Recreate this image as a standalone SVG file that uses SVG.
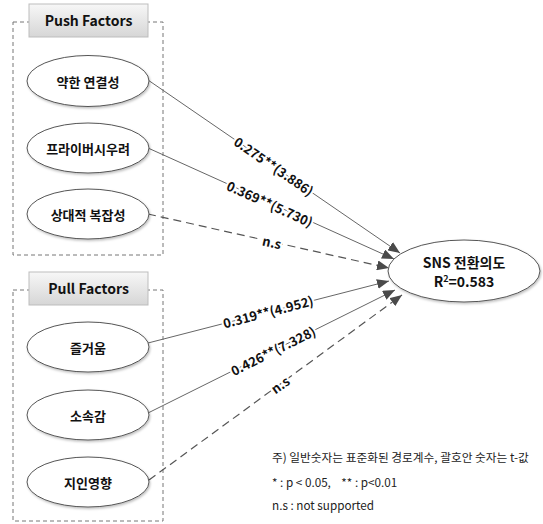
<svg xmlns="http://www.w3.org/2000/svg" width="543" height="524" viewBox="0 0 543 524">
  <defs>
    <linearGradient id="hdr" x1="0" y1="0" x2="0" y2="1">
      <stop offset="0" stop-color="#f7f7f7"/>
      <stop offset="1" stop-color="#d6d6d6"/>
    </linearGradient>
    <filter id="sh" x="-10%" y="-10%" width="125%" height="130%">
      <feDropShadow dx="1" dy="1.5" stdDeviation="1" flood-color="#000" flood-opacity="0.25"/>
    </filter>
    <marker id="arr" viewBox="0 0 12 10" refX="12" refY="5" markerWidth="12" markerHeight="10" markerUnits="userSpaceOnUse" orient="auto">
      <path d="M0,0 L12,5 L0,10 Z" fill="#4a4a4a"/>
    </marker>
  </defs>
  <style>
    .grp { fill: none; stroke: #777; stroke-width: 1; stroke-dasharray: 4 3; }
    .hdr { fill: url(#hdr); stroke: #bdbdbd; stroke-width: 1; }
    .hdrt { font-family: "Noto Sans CJK KR", "Noto Sans", sans-serif; font-size: 14px; font-weight: 700; fill: #111; text-anchor: middle; }
    .node { fill: #fff; stroke: #555; stroke-width: 1; filter: url(#sh); }
    .nt { font-family: "Noto Sans CJK KR", sans-serif; font-size: 13px; font-weight: 700; fill: #111; text-anchor: middle; dominant-baseline: central; }
    .tt { font-family: "Noto Sans CJK KR", sans-serif; font-size: 14px; font-weight: 700; fill: #111; text-anchor: middle; }
    .ln { stroke: #666; stroke-width: 1; fill: none; marker-end: url(#arr); }
    .dl { stroke: #555; stroke-width: 1.2; fill: none; stroke-dasharray: 8 5; marker-end: url(#arr); }
    .lab { font-family: "Noto Sans CJK KR", sans-serif; font-size: 13px; font-weight: 700; fill: #111; text-anchor: middle; dominant-baseline: central; stroke: #fff; stroke-width: 4; paint-order: stroke; stroke-linejoin: round; }
    .note { font-family: "Noto Sans CJK KR", sans-serif; font-size: 11.7px; fill: #222; white-space: pre; }
  </style>

  <!-- groups -->
  <g id="push-group">
    <rect class="grp" x="13" y="22" width="150" height="233"/>
    <rect class="hdr" x="29" y="4" width="119" height="33"/>
    <text class="hdrt" x="88.5" y="26">Push Factors</text>
  </g>
  <g id="pull-group">
    <rect class="grp" x="13" y="290" width="150" height="231"/>
    <rect class="hdr" x="29" y="272" width="119" height="33"/>
    <text class="hdrt" x="88.5" y="294">Pull Factors</text>
  </g>

  <!-- connectors -->
  <g id="connectors">
    <line class="ln" x1="148" y1="80" x2="400" y2="253"/>
    <line class="ln" x1="148" y1="148" x2="394" y2="259"/>
    <line class="dl" x1="148" y1="214" x2="389" y2="268"/>
    <line class="ln" x1="148" y1="343" x2="389" y2="281"/>
    <line class="ln" x1="148" y1="413" x2="395" y2="290"/>
    <line class="dl" x1="149" y1="480" x2="402" y2="295"/>
    <text class="lab" transform="translate(274,166) rotate(34.5)">0.275**(3.886)</text>
    <text class="lab" transform="translate(270,203.5) rotate(24.3)">0.369**(5.730)</text>
    <text class="lab" transform="translate(272,242) rotate(12.6)">n.s</text>
    <text class="lab" transform="translate(268,311.5) rotate(-14.5)">0.319**(4.952)</text>
    <text class="lab" transform="translate(273,350.5) rotate(-26.5)">0.426**(7.328)</text>
    <text class="lab" transform="translate(280,384.5) rotate(-36)">n.s</text>
  </g>

  <!-- nodes -->
  <g id="n1"><ellipse class="node" cx="88" cy="81" rx="61" ry="25.5"/><text class="nt" x="88" y="81">약한 연결성</text></g>
  <g id="n2"><ellipse class="node" cx="88" cy="148" rx="61" ry="25"/><text class="nt" x="88" y="148">프라이버시우려</text></g>
  <g id="n3"><ellipse class="node" cx="88" cy="214" rx="61" ry="25"/><text class="nt" x="88" y="214">상대적 복잡성</text></g>
  <g id="n4"><ellipse class="node" cx="88" cy="347" rx="61" ry="25"/><text class="nt" x="88" y="347">즐거움</text></g>
  <g id="n5"><ellipse class="node" cx="88" cy="415" rx="61" ry="25"/><text class="nt" x="88" y="415">소속감</text></g>
  <g id="n6"><ellipse class="node" cx="88" cy="482" rx="61" ry="25"/><text class="nt" x="88" y="482">지인영향</text></g>
  <g id="target">
    <ellipse class="node" cx="464" cy="271" rx="76" ry="31"/>
    <text class="tt" x="464" y="268">SNS 전환의도</text>
    <text class="tt" x="464" y="287">R<tspan font-size="9" dy="-5">2</tspan><tspan dy="5">=0.583</tspan></text>
  </g>

  <!-- note -->
  <g id="note">
    <text class="note" x="272" y="462">주) 일반숫자는 표준화된 경로계수, 괄호안 숫자는 t-값</text>
    <text class="note" x="272" y="487">* : p &lt; 0.05,    ** : p&lt;0.01</text>
    <text class="note" x="272" y="510">n.s : not supported</text>
  </g>
</svg>
